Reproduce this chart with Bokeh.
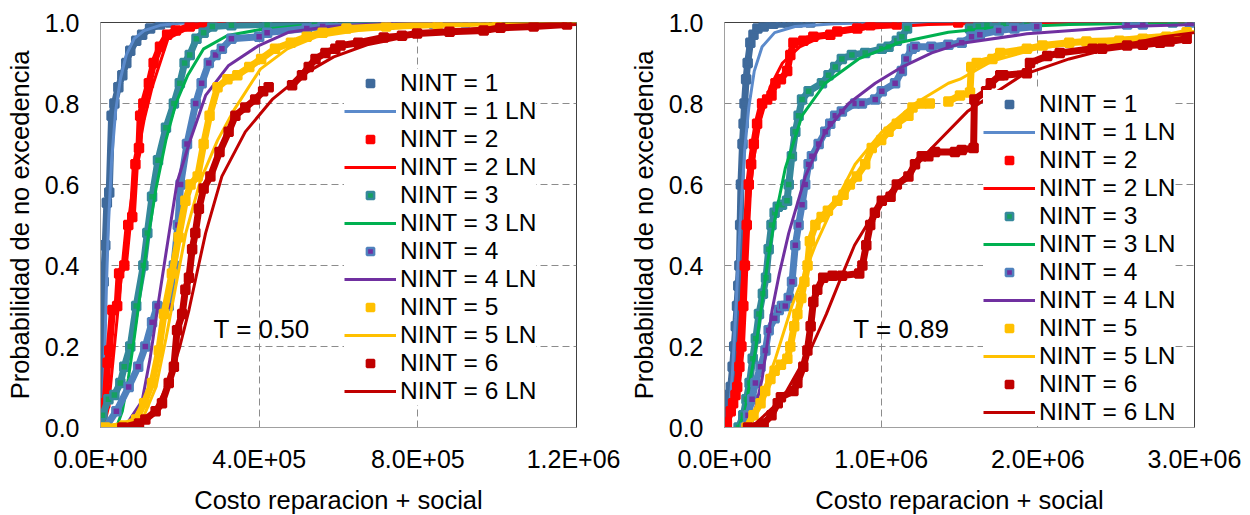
import math
from bokeh.plotting import figure
from bokeh.layouts import row
from bokeh.models import Legend, LegendItem, FixedTicker, Range1d
from bokeh.core.properties import value
from bokeh.embed import file_html
from bokeh.resources import INLINE

nan = float("nan")

# ---------------- data: left panel (T = 0.50) ----------------
L1_x = [0, 2000, 3000, 8000, 12000, 16000, 22000, 28000, 35000, 45000, 55000, 65000, 75000, 90000, 105000, 125000, 150000, 175000]
L1_y = [0.0, 0.05, 0.34, 0.36, 0.45, 0.555, 0.58, 0.77, 0.8, 0.84, 0.87, 0.9, 0.93, 0.955, 0.97, 0.985, 0.995, 1.0]
L1LN_x = [3000, 6000, 10000, 15000, 20000, 28000, 38000, 50000, 65000, 85000, 110000, 150000, 200000, 300000]
L1LN_y = [0.0, 0.03, 0.15, 0.35, 0.5, 0.66, 0.78, 0.86, 0.92, 0.96, 0.98, 0.993, 0.998, 1.0]

L2_x = [0, 3000, 12000, 18000, 22000, 30000, 42000, 47000, 60000, 70000, 80000, 88000, 97000, 100000, 108000, 122000, 134000, 150000, 168000, 190000, 225000, 260000, 300000, 335000]
L2_y = [0.0, 0.05, 0.06, 0.16, 0.19, 0.29, 0.3, 0.38, 0.4, 0.5, 0.52, 0.65, 0.69, 0.77, 0.8, 0.85, 0.9, 0.94, 0.97, 0.98, 0.99, 0.995, 1.0, 1.0]
L2LN_x = [8000, 20000, 35000, 50000, 65000, 80000, 95000, 110000, 130000, 150000, 170000, 220000, 280000, 400000]
L2LN_y = [0.0, 0.05, 0.2, 0.35, 0.47, 0.58, 0.68, 0.76, 0.84, 0.9, 0.96, 0.985, 0.995, 1.0]

L3_x = [0, 5000, 20000, 35000, 50000, 60000, 75000, 90000, 108000, 118000, 130000, 145000, 165000, 185000, 200000, 212000, 225000, 242000, 260000, 282000, 330000, 420000, 540000, 585000]
L3_y = [0.0, 0.03, 0.07, 0.08, 0.11, 0.15, 0.2, 0.3, 0.4, 0.48, 0.57, 0.66, 0.74, 0.8, 0.85, 0.9, 0.92, 0.96, 0.975, 0.99, 0.993, 0.995, 1.0, 1.0]
L3LN_x = [40000, 55000, 70000, 85000, 100000, 120000, 140000, 165000, 190000, 220000, 260000, 320000, 400000, 500000, 700000]
L3LN_y = [0.0, 0.04, 0.12, 0.22, 0.33, 0.47, 0.59, 0.71, 0.8, 0.87, 0.935, 0.968, 0.982, 0.992, 1.0]

L4_x = [12000, 40000, 71000, 95000, 113000, 130000, 143000, 172000, 185000, 195000, 202000, 218000, 240000, 255000, 273000, 290000, 306000, 330000, 400000, 420000, 520000, 560000, 730000, 840000, 920000, 966000]
L4_y = [0.0, 0.04, 0.1, 0.15, 0.2, 0.26, 0.3, 0.3, 0.4, 0.5, 0.6, 0.7, 0.8, 0.85, 0.9, 0.92, 0.935, 0.96, 0.965, 0.975, 0.985, 0.99, 0.995, 0.997, 1.0, 1.0]
L4LN_x = [60000, 105000, 125000, 143000, 168000, 193000, 223000, 265000, 323000, 399000, 475000, 575000, 700000, 900000]
L4LN_y = [0.0, 0.066, 0.17, 0.29, 0.449, 0.605, 0.70, 0.82, 0.894, 0.943, 0.976, 0.99, 0.997, 1.0]

L5_x = [12000, 60000, 90000, 110000, 130000, 147000, 160000, 180000, 197000, 214000, 227000, 245000, 260000, 275000, 295000, 320000, 345000, 375000, 405000, 440000, 480000, 520000, 560000, 620000, 720000, 850000, 1000000]
L5_y = [0.0, 0.005, 0.02, 0.06, 0.11, 0.19, 0.28, 0.38, 0.47, 0.56, 0.6, 0.62, 0.7, 0.77, 0.84, 0.86, 0.87, 0.89, 0.91, 0.935, 0.95, 0.965, 0.975, 0.985, 0.99, 0.995, 1.0]
L5LN_x = [80000, 110000, 140000, 165000, 190000, 215000, 252000, 295000, 336000, 403000, 471000, 546000, 650000, 800000, 1000000, 1200000]
L5LN_y = [0.0, 0.03, 0.1, 0.22, 0.35, 0.48, 0.61, 0.709, 0.783, 0.885, 0.935, 0.965, 0.98, 0.99, 0.997, 1.0]

L6_x = [55000, 97000, 113000, 139000, 155000, 172000, 185000, 193000, 206000, 214000, 223000, 231000, 239000, 248000, 260000, 277000, 300000, 323000, 340000, 365000, 390000, 410000, 424000, nan,
        483000, 508000, 525000, 542000, 567000, 592000, 605000, 650000, 714000, 760000, 798000, 880000, 966000, 1008000, 1092000, 1176000]
L6_y = [0.0, 0.01, 0.02, 0.04, 0.06, 0.11, 0.15, 0.24, 0.28, 0.34, 0.37, 0.44, 0.48, 0.54, 0.59, 0.62, 0.68, 0.73, 0.77, 0.79, 0.81, 0.83, 0.84, nan,
        0.845, 0.87, 0.89, 0.91, 0.925, 0.935, 0.943, 0.95, 0.963, 0.967, 0.973, 0.977, 0.98, 0.987, 0.99, 0.995]
L6LN_x = [90000, 130000, 172000, 200000, 223000, 245000, 265000, 306000, 365000, 433000, 508000, 588000, 672000, 800000, 950000, 1200000]
L6LN_y = [0.0, 0.03, 0.11, 0.2, 0.29, 0.39, 0.48, 0.62, 0.73, 0.81, 0.87, 0.915, 0.945, 0.97, 0.985, 0.995]

# ---------------- data: right panel (T = 0.89) ----------------
R1_x = [0, 5000, 15000, 30000, 40000, 52000, 62000, 72000, 80000, 88000, 95000, 100000, 105000, 115000, 122000, 128000, 138000, 148000, 165000, 185000, 210000, 250000, 312000, 360000, nan, 401000, 470000, 548000, nan, 885000]
R1_y = [0.0, 0.03, 0.05, 0.08, 0.1, 0.15, 0.2, 0.25, 0.3, 0.35, 0.4, 0.5, 0.6, 0.7, 0.75, 0.8, 0.86, 0.9, 0.95, 0.97, 0.985, 0.99, 0.997, 1.0, nan, 1.0, 1.0, 1.0, nan, 1.0]
R1LN_x = [10000, 30000, 50000, 70000, 90000, 110000, 130000, 155000, 190000, 240000, 320000, 450000, 700000, 1000000, 3000000]
R1LN_y = [0.0, 0.04, 0.13, 0.27, 0.43, 0.57, 0.69, 0.79, 0.88, 0.94, 0.975, 0.99, 0.997, 1.0, 1.0]

R2_x = [0, 15000, 40000, 55000, 70000, 81000, 95000, 108000, 120000, 130000, 142000, 155000, 170000, 187000, 208000, 240000, 272000, 300000, 325000, 360000, 400000, 420000, 440000, 503000, 567000, 675000, 720000, 847000, 930000, 1100000, nan, 1492000]
R2_y = [0.0, 0.01, 0.04, 0.06, 0.08, 0.1, 0.15, 0.2, 0.3, 0.4, 0.5, 0.6, 0.65, 0.7, 0.75, 0.8, 0.81, 0.82, 0.85, 0.86, 0.88, 0.92, 0.95, 0.955, 0.965, 0.97, 0.978, 0.985, 0.993, 0.995, nan, 1.0]
R2LN_x = [20000, 50000, 75000, 95000, 120000, 150000, 185000, 230000, 290000, 370000, 480000, 650000, 900000, 1300000, 2000000, 3000000]
R2LN_y = [0.0, 0.04, 0.13, 0.24, 0.39, 0.53, 0.66, 0.76, 0.84, 0.9, 0.94, 0.97, 0.985, 0.995, 1.0, 1.0]

R3_x = [90000, 120000, 140000, 160000, 180000, 200000, 220000, 245000, 265000, 282000, 300000, 320000, 340000, 367000, 399000, 410000, 430000, 452000, 473000, 495000, 537000, 622000, 664000, 707000, 749000, 813000, 898000, 1004000, 1047000, 1100000, 1132000, 1165000, nan,
        1567000, 1620000, 1675000, 1780000, 1930000, nan, 2570000, 2670000, nan, 2860000]
R3_y = [0.0, 0.03, 0.07, 0.11, 0.17, 0.22, 0.28, 0.33, 0.37, 0.44, 0.5, 0.53, 0.545, 0.55, 0.56, 0.6, 0.67, 0.73, 0.77, 0.81, 0.83, 0.85, 0.87, 0.89, 0.91, 0.92, 0.925, 0.935, 0.94, 0.955, 0.965, 0.985, nan,
        0.985, 0.99, 0.993, 0.995, 0.996, nan, 0.998, 0.998, nan, 1.0]
R3LN_x = [90000, 130000, 170000, 197000, 240000, 280000, 314000, 388000, 495000, 643000, 856000, 1110000, 1429000, 1747000, 2200000, 3000000]
R3LN_y = [0.0, 0.04, 0.13, 0.19, 0.31, 0.42, 0.5, 0.64, 0.77, 0.85, 0.91, 0.95, 0.976, 0.988, 0.995, 1.0]

R4_x = [130000, 150000, 176000, 197000, 230000, 261000, 282000, 320000, 346000, 367000, 388000, 410000, 431000, 452000, 473000, 495000, 515000, 537000, 558000, 601000, 643000, 675000, 707000, 749000, 834000, 877000, 962000, 1004000, 1089000, 1132000, 1160000, 1195000, 1216000, 1320000, 1429000, 1514000, 1577000, 1630000, 1750000, 1850000, 1993000, nan,
        2570000, 2670000, nan, 2970000]
R4_y = [0.0, 0.03, 0.07, 0.11, 0.15, 0.19, 0.24, 0.27, 0.29, 0.3, 0.3, 0.32, 0.36, 0.45, 0.5, 0.55, 0.6, 0.65, 0.67, 0.7, 0.73, 0.75, 0.77, 0.78, 0.8, 0.8, 0.81, 0.83, 0.85, 0.88, 0.91, 0.935, 0.94, 0.94, 0.945, 0.95, 0.965, 0.97, 0.98, 0.985, 0.99, nan,
        0.995, 0.995, nan, 1.0]
R4LN_x = [170000, 240000, 304000, 350000, 410000, 516000, 643000, 792000, 962000, 1132000, 1323000, 1503000, 1930000, 2570000, 3000000]
R4LN_y = [0.0, 0.12, 0.29, 0.38, 0.48, 0.62, 0.73, 0.8, 0.85, 0.89, 0.925, 0.948, 0.972, 0.99, 0.995]

R5_x = [140000, 185000, 230000, 260000, 293000, 320000, 360000, 401000, 420000, 445000, 465000, 490000, 510000, 530000, 545000, 580000, 620000, 660000, 720000, 760000, 800000, 845000, 898000, 940000, 1000000, 1047000, 1100000, 1174000, 1200000, 1260000, 1310000, nan,
        1429000, 1503000, 1567000, 1575000, 1610000, 1710000, 1760000, 1930000, 2030000, 2200000, 2310000, 2520000, 2670000, 2820000, 2950000]
R5_y = [0.0, 0.03, 0.06, 0.09, 0.12, 0.14, 0.155, 0.17, 0.2, 0.25, 0.28, 0.32, 0.36, 0.4, 0.46, 0.5, 0.52, 0.535, 0.56, 0.575, 0.6, 0.62, 0.65, 0.69, 0.71, 0.73, 0.75, 0.77, 0.79, 0.8, 0.8, nan,
        0.805, 0.82, 0.827, 0.89, 0.9, 0.91, 0.925, 0.935, 0.943, 0.95, 0.953, 0.955, 0.96, 0.965, 0.976]
R5LN_x = [150000, 220000, 260000, 325000, 430000, 580000, 686000, 834000, 1004000, 1216000, 1429000, 1503000, 1710000, 1990000, 2350000, 2780000, 3000000]
R5LN_y = [0.0, 0.05, 0.1, 0.17, 0.3, 0.45, 0.54, 0.65, 0.73, 0.8, 0.85, 0.86, 0.905, 0.935, 0.955, 0.97, 0.978]

R6_x = [150000, 250000, 300000, 340000, 360000, 440000, 465000, 503000, 529000, 550000, 567000, 592000, 630000, 690000, nan, 750000, 860000, 880000, 905000, 930000,
        960000, 1004000, 1060000, 1100000, 1174000, 1216000, 1259000, 1301000, 1344000, 1471000, 1514000, 1590000, 1595000, 1670000, 1700000, 1760000, 1780000, 1930000, 1950000, 2060000,
        2140000, 2350000, 2410000, 2570000, 2670000, 2780000, 2840000, 2950000]
R6_y = [0.0, 0.01, 0.03, 0.06, 0.075, 0.09, 0.11, 0.15, 0.19, 0.25, 0.31, 0.34, 0.37, 0.375, nan, 0.375, 0.38, 0.4, 0.45, 0.5,
        0.53, 0.56, 0.57, 0.6, 0.62, 0.65, 0.67, 0.67, 0.68, 0.68, 0.685, 0.69, 0.81, 0.83, 0.85, 0.87, 0.87, 0.875, 0.9, 0.917,
        0.925, 0.935, 0.935, 0.943, 0.945, 0.95, 0.953, 0.96]
R6LN_x = [170000, 367000, 470000, 558000, 650000, 749000, 830000, 919000, 1004000, 1110000, 1323000, 1550000, 1700000, 1900000, 2200000, 2500000, 2800000, 3000000]
R6LN_y = [0.0, 0.07, 0.14, 0.2, 0.28, 0.375, 0.45, 0.507, 0.56, 0.605, 0.69, 0.78, 0.82, 0.87, 0.91, 0.94, 0.965, 0.975]

labels = ["NINT = 1", "NINT = 2", "NINT = 3", "NINT = 4", "NINT = 5", "NINT = 6"]
y_ticks = [0.0, 0.2, 0.4, 0.6, 0.8, 1.0]
y_tick_labels = ["0.0", "0.2", "0.4", "0.6", "0.8", "1.0"]
left_x_ticks = [0, 400000, 800000, 1200000]
left_x_tick_labels = ["0.0E+00", "4.0E+05", "8.0E+05", "1.2E+06"]
right_x_ticks = [0, 1000000, 2000000, 3000000]
right_x_tick_labels = ["0.0E+00", "1.0E+06", "2.0E+06", "3.0E+06"]
x_title = "Costo reparacion + social"
y_title = "Probabilidad de no excedencia"
left_note = "T = 0.50"
right_note = "T = 0.89"

left_series = [(L1_x, L1_y, L1LN_x, L1LN_y), (L2_x, L2_y, L2LN_x, L2LN_y), (L3_x, L3_y, L3LN_x, L3LN_y),
               (L4_x, L4_y, L4LN_x, L4LN_y), (L5_x, L5_y, L5LN_x, L5LN_y), (L6_x, L6_y, L6LN_x, L6LN_y)]
right_series = [(R1_x, R1_y, R1LN_x, R1LN_y), (R2_x, R2_y, R2LN_x, R2LN_y), (R3_x, R3_y, R3LN_x, R3LN_y),
                (R4_x, R4_y, R4LN_x, R4LN_y), (R5_x, R5_y, R5LN_x, R5LN_y), (R6_x, R6_y, R6LN_x, R6LN_y)]

# styles: (band colour, marker fill, LN colour)
styles = [
    ("#3F6A9B", "#3F6A9B", "#5B8ACB"),
    ("#FF0000", "#FF0000", "#FF0000"),
    ("#35889B", "#16A060", "#00B050"),
    ("#4F81BD", "#7030A0", "#7030A0"),
    ("#FFC000", "#FFC000", "#FFC000"),
    ("#C00000", "#C00000", "#C00000"),
]

FONT = "Liberation Sans"


def panel(series, xmax, xticks, xtick_labels, note, note_x, note_y, width, bl, br, legend_loc):
    p = figure(width=width, height=515, output_backend="svg", toolbar_location=None,
               x_range=Range1d(0, xmax), y_range=Range1d(0, 1),
               min_border_left=bl, min_border_right=br, min_border_top=22, min_border_bottom=88,
               frame_width=width - bl - br, frame_height=405)
    p.background_fill_color = "white"
    p.border_fill_color = "white"
    p.outline_line_color = "#404040"
    p.outline_line_width = 1

    p.xaxis.ticker = FixedTicker(ticks=xticks)
    p.xaxis.major_label_overrides = {t: l for t, l in zip(xticks, xtick_labels)}
    p.yaxis.ticker = FixedTicker(ticks=y_ticks)
    p.yaxis.major_label_overrides = {t: l for t, l in zip(y_ticks, y_tick_labels)}
    for ax in (p.xaxis[0], p.yaxis[0]):
        ax.axis_line_color = "#A0A0A0"
        ax.major_tick_line_color = None
        ax.minor_tick_line_color = None
        ax.major_tick_out = 0
        ax.major_tick_in = 0
        ax.major_label_text_font = FONT
        ax.major_label_text_font_size = "25px"
        ax.major_label_text_color = "black"
        ax.axis_label_text_font = FONT
        ax.axis_label_text_font_size = "25.5px"
        ax.axis_label_text_font_style = "normal"
        ax.axis_label_text_color = "black"
    p.xaxis.axis_label = x_title
    p.yaxis.axis_label = y_title
    p.xaxis.major_label_standoff = 17
    p.xaxis.axis_label_standoff = 10
    p.yaxis.major_label_standoff = 21
    p.yaxis.axis_label_standoff = 8

    for g in (p.xgrid[0], p.ygrid[0]):
        g.grid_line_color = "#8C8C8C"
        g.grid_line_dash = "7 4"
        g.grid_line_width = 1
    p.xgrid.ticker = FixedTicker(ticks=xticks)
    p.ygrid.ticker = FixedTicker(ticks=y_ticks)

    items = []
    for (ex, ey, lx, ly), lab, (band, fill, lnc) in zip(series, labels, styles):
        p.line(ex, ey, line_color=band, line_width=7)
        sx = [a for a, b in zip(ex, ey) if not (isinstance(a, float) and math.isnan(a))]
        sy = [b for a, b in zip(ex, ey) if not (isinstance(a, float) and math.isnan(a))]
        sc = p.scatter(sx, sy, marker="square", size=8, fill_color=fill, line_color=band, line_width=2.5)
        ln = p.line(lx, ly, line_color=lnc, line_width=3)
        items.append(LegendItem(label=lab, renderers=[sc]))
        items.append(LegendItem(label=lab + " LN", renderers=[ln]))

    p.text(x=[note_x], y=[note_y], text=[note], text_font=value(FONT), text_font_size="26px",
           text_color="black", text_align="left", text_baseline="alphabetic")

    leg = Legend(items=items, location=legend_loc, padding=0, spacing=-2, margin=0,
                 glyph_width=52, glyph_height=18, label_height=20, label_standoff=4,
                 label_text_font=FONT, label_text_font_size="24.5px", label_text_color="black",
                 background_fill_color="white", background_fill_alpha=1.0,
                 border_line_color=None)
    p.add_layout(leg, "center")
    return p


left = panel(left_series, 1200000, left_x_ticks, left_x_tick_labels, left_note, 285000, 0.244,
             620, 100, 44, (244, 22))
right = panel(right_series, 3000000, right_x_ticks, right_x_tick_labels, right_note, 822000, 0.244,
              630, 104, 56, (259, 1))

layout = row(left, right, spacing=0)
open("out.html", "w").write(file_html(layout, INLINE))
